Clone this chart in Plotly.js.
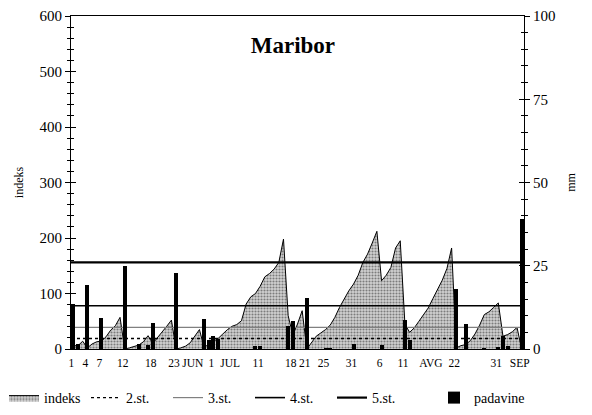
<!DOCTYPE html>
<html>
<head>
<meta charset="utf-8">
<script src="https://cdn.plot.ly/plotly-3.0.1.min.js"></script>
<style>html,body{margin:0;padding:0;background:#fff}#chart{width:592px;height:415px}</style>
</head>
<body>
<div id="chart"></div>
<script>
// Daily fire-danger index (left axis)
const indeks = [
  6, 6, 14, 2, 9, 13, 14, 22, 34, 42,
  57, 0, 2, 4, 7, 13, 24, 10, 20, 29,
  41, 52, 0, 2, 5, 11, 23, 35, 3, 8,
  13, 19, 27, 35, 41, 44, 51, 81, 94, 100,
  113, 130, 136, 144, 156, 198, 60, 25, 45, 69,
  0, 12, 23, 29, 35, 43, 57, 75, 90, 105,
  117, 133, 156, 171, 191, 212, 123, 133, 147, 182,
  195, 45, 30, 38, 50, 61, 74, 91, 107, 124,
  145, 182, 2, 6, 8, 15, 27, 43, 62, 67,
  75, 83, 23, 26, 31, 39, 0
];
// Daily precipitation, mm (right axis)
const padavine = [
  13.5, 1.5, 0, 19.3, 0, 0, 9.4, 0, 0, 0,
  0, 25, 0, 0, 1.6, 0, 1.3, 7.8, 0, 0,
  0, 0, 22.8, 0, 0, 0, 0, 0, 9, 2.6,
  3.8, 3, 0, 0, 0, 0, 0, 0, 0, 0.8,
  1.0, 0, 0, 0, 0, 0, 7, 8.3, 0, 0,
  15.3, 0, 0, 0, 0.3, 0.3, 0, 0, 0, 0,
  1.6, 0, 0, 0, 0, 0, 1.3, 0, 0, 0,
  0, 8.8, 2.6, 0, 0, 0, 0, 0, 0, 0,
  0, 0, 18, 0, 7.6, 0, 0, 0, 0.3, 0,
  0, 0.5, 3.8, 0.8, 0, 0, 39
];
// Danger-level thresholds
const stopnjeNames = ['2.st.', '3.st.', '4.st.', '5.st.'];
const stopnjeValues = [19, 39, 78, 156];
// Category tick labels
const tickPos  = [0, 3, 6, 11, 17, 22, 26, 30, 34, 40, 47, 50, 54, 60, 66, 71, 77, 82, 91, 96];
const tickText = ['1','4','7','12','18','23','JUN','1','JUL','11','18','21','25','31','6','11','AVG','22','31','SEP'];

const xs = indeks.map((_, i) => i);
const xMin = -0.5, xMax = indeks.length - 0.5;

const lineStyles = [
  {color: '#000', width: 1.4, dash: 'dot'},
  {color: '#808080', width: 1.2, dash: 'solid'},
  {color: '#000', width: 1.6, dash: 'solid'},
  {color: '#000', width: 2.2, dash: 'solid'}
];

const FONT = 'Liberation Serif';

const traces = [];
traces.push({
  type: 'scatter', mode: 'lines', name: 'indeks',
  x: xs, y: indeks, fill: 'tozeroy',
  fillcolor: '#c4c4c4',
  fillpattern: {shape: '.', bgcolor: '#d2d2d2', fgcolor: '#7c7c7c', size: 3, solidity: 0.4},
  line: {color: '#000', width: 1},
  xaxis: 'x', yaxis: 'y', legend: 'legend'
});
stopnjeNames.forEach((n, k) => {
  traces.push({
    type: 'scatter', mode: 'lines', name: n,
    x: [xMin, xMax], y: [stopnjeValues[k], stopnjeValues[k]],
    line: lineStyles[k], xaxis: 'x', yaxis: 'y', legend: 'legend'
  });
});
traces.push({
  type: 'bar', name: 'padavine', x: xs, y: padavine,
  marker: {color: '#000', line: {width: 0}}, width: 0.85,
  xaxis: 'x', yaxis: 'y2', legend: 'legend2'
});
// empty helper traces so the inner tick axes get drawn (cross-style ticks)
traces.push({type: 'scatter', mode: 'lines', x: [], y: [], xaxis: 'x', yaxis: 'y3', showlegend: false, hoverinfo: 'skip'});
traces.push({type: 'scatter', mode: 'lines', x: [], y: [], xaxis: 'x', yaxis: 'y4', showlegend: false, hoverinfo: 'skip'});

const legendY = (349 - 382) / 333;

const layout = {
  width: 592, height: 415,
  margin: {l: 71, r: 68, t: 16, b: 66, autoexpand: false},
  paper_bgcolor: '#fff', plot_bgcolor: '#fff',
  font: {family: FONT, color: '#000', size: 14},
  showlegend: true,
  title: {text: '<b>Maribor</b>', font: {family: FONT, size: 23, color: '#000'},
          x: 290/592, xanchor: 'center', y: 1 - 45/415, yanchor: 'middle', xref: 'paper', yref: 'container'},
  bargap: 0,
  xaxis: {
    range: [xMin, xMax], tickmode: 'array', tickvals: tickPos, ticktext: tickText, tickangle: 0,
    ticks: '', showgrid: false, zeroline: false, showline: true, linecolor: '#000', linewidth: 1,
    mirror: true, tickfont: {size: 11.5, family: FONT}, ticklabelshift: -2, ticklabelstandoff: 3
  },
  yaxis: {
    range: [0, 600], dtick: 100, tick0: 0, ticks: 'outside', ticklen: 5, tickcolor: '#000',
    minor: {dtick: 20, ticks: 'outside', ticklen: 3, tickcolor: '#000', showgrid: false},
    showgrid: false, zeroline: false, showline: true, linecolor: '#000', linewidth: 1,
    tickfont: {size: 15, family: FONT},
    title: {text: 'indeks', font: {size: 12, family: FONT}, standoff: 13}
  },
  yaxis2: {
    range: [0, 100], dtick: 25, tick0: 0, overlaying: 'y', side: 'right', anchor: 'x',
    ticks: 'outside', ticklen: 5, tickcolor: '#000',
    minor: {dtick: 5, ticks: 'outside', ticklen: 3, tickcolor: '#000', showgrid: false},
    showgrid: false, zeroline: false, showline: true, linecolor: '#000', linewidth: 1,
    tickfont: {size: 15, family: FONT},
    title: {text: 'mm', font: {size: 12, family: FONT}, standoff: 12}
  },
  yaxis3: {
    range: [0, 600], dtick: 100, tick0: 0, overlaying: 'y', side: 'left', anchor: 'x',
    ticks: 'inside', ticklen: 5, tickcolor: '#000',
    minor: {dtick: 20, ticks: 'inside', ticklen: 3, tickcolor: '#000', showgrid: false},
    showticklabels: false, showgrid: false, zeroline: false, showline: false
  },
  yaxis4: {
    range: [0, 100], dtick: 25, tick0: 0, overlaying: 'y', side: 'right', anchor: 'x',
    ticks: 'inside', ticklen: 5, tickcolor: '#000',
    minor: {dtick: 5, ticks: 'inside', ticklen: 3, tickcolor: '#000', showgrid: false},
    showticklabels: false, showgrid: false, zeroline: false, showline: false
  },
  legend: {
    orientation: 'h', x: (4 - 71) / 453, xanchor: 'left', y: legendY, yanchor: 'top',
    entrywidth: 37, entrywidthmode: 'pixels', itemwidth: 30,
    font: {size: 14, family: FONT}, traceorder: 'normal', bgcolor: 'rgba(0,0,0,0)'
  },
  legend2: {
    orientation: 'h', x: (434 - 71) / 453, xanchor: 'left', y: legendY, yanchor: 'top',
    itemwidth: 30,
    font: {size: 14, family: FONT}, bgcolor: 'rgba(0,0,0,0)'
  }
};

Plotly.newPlot('chart', traces, layout, {displayModeBar: false, staticPlot: true});
</script>
</body>
</html>
